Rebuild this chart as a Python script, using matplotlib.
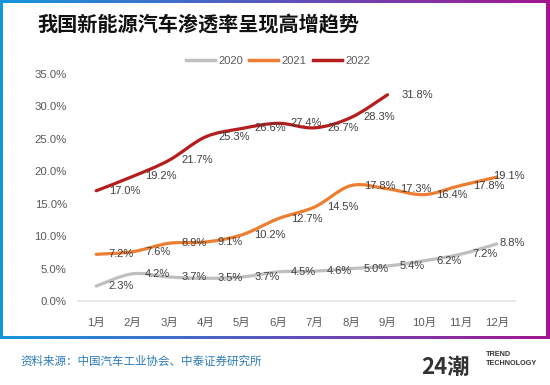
import numpy as np
import matplotlib
matplotlib.use('Agg')
import matplotlib.pyplot as plt
from matplotlib.path import Path
from matplotlib.patches import PathPatch, Rectangle
from matplotlib.lines import Line2D
from matplotlib.colors import LinearSegmentedColormap

plt.rcParams['font.family'] = ['Liberation Sans', 'Noto Sans CJK SC', 'DejaVu Sans']

months = ['1月', '2月', '3月', '4月', '5月', '6月', '7月', '8月', '9月', '10月', '11月', '12月']
v2020 = [2.3, 4.2, 3.7, 3.5, 3.7, 4.5, 4.6, 5.0, 5.4, 6.2, 7.2, 8.8]
v2021 = [7.2, 7.6, 8.9, 9.1, 10.2, 12.7, 14.5, 17.8, 17.3, 16.4, 17.8, 19.1]
v2022 = [17.0, 19.2, 21.7, 25.3, 26.6, 27.4, 26.7, 28.3, 31.8]
series = [('2020', v2020, '#BFBFBF'), ('2021', v2021, '#ED7D31'), ('2022', v2022, '#B71C1C')]
yticks = [0, 5, 10, 15, 20, 25, 30, 35]

# last data label of the full-year series is pulled in so it stays inside the frame
last_offset = {'2020': (2, 1), '2021': (-3, 1), '2022': (10, 0)}


def smooth_path(xs, ys):
    # Catmull-Rom style Bezier through the data points (like Excel's smoothed line)
    pts = np.column_stack([xs, ys]).astype(float)
    verts = [pts[0]]
    codes = [Path.MOVETO]
    n = len(pts)
    for i in range(n - 1):
        p0 = pts[max(i - 1, 0)]
        p1 = pts[i]
        p2 = pts[i + 1]
        p3 = pts[min(i + 2, n - 1)]
        c1 = p1 + (p2 - p0) / 6.0
        c2 = p2 - (p3 - p1) / 6.0
        verts += [c1, c2, p2]
        codes += [Path.CURVE4] * 3
    return Path(verts, codes)


W, H = 550, 385
fig = plt.figure(figsize=(W / 100, H / 100), dpi=100)

# gradient frame
frame_h = 339
bg = fig.add_axes([0, 1 - frame_h / H, 1, frame_h / H], zorder=0)
cmap = LinearSegmentedColormap.from_list('frame', ['#1597DB', '#5B55BE', '#A3168F'])
bg.imshow(np.linspace(0, 1, 256).reshape(1, -1), aspect='auto', cmap=cmap,
          extent=[0, W, 0, frame_h])
bg.add_patch(Rectangle((3, 3), W - 7, frame_h - 6, facecolor='white', edgecolor='none'))
bg.set_xlim(0, W)
bg.set_ylim(0, frame_h)
bg.axis('off')

ax = fig.add_axes([78 / W, 1 - 301 / H, (515 - 78) / W, (301 - 74) / H], zorder=2)
ax.set_facecolor('none')
x = np.arange(len(months))
for name, vals, col in series:
    xs = x[:len(vals)]
    ax.add_patch(PathPatch(smooth_path(xs, vals), facecolor='none', edgecolor=col,
                           lw=2.3, capstyle='round', zorder=3))
    for i, (xi, v) in enumerate(zip(xs, vals)):
        off = last_offset[name] if i == len(vals) - 1 else (9, 0)
        ax.annotate(f'{v:.1f}%', (xi, v), xytext=off, textcoords='offset points',
                    ha='left', va='center', fontsize=8, color='#404040', zorder=4)

ax.set_xlim(-0.5, len(months) - 0.5)
ax.set_ylim(0, 35)
ax.set_xticks(x)
ax.set_xticklabels(months)
ax.set_yticks(yticks)
ax.set_yticklabels([f'{t:.1f}%' for t in yticks])
ax.tick_params(length=0, labelsize=8.2, colors='#595959')
ax.tick_params(axis='x', pad=12)
ax.tick_params(axis='y', pad=8)
for s in ['top', 'right', 'left']:
    ax.spines[s].set_visible(False)
ax.spines['bottom'].set_color('#E3E3E3')
ax.spines['bottom'].set_linewidth(1.2)

handles = [Line2D([], [], color=c, lw=2.5) for _, _, c in series]
fig.legend(handles, [n for n, _, _ in series], loc='center', ncol=3,
           bbox_to_anchor=(278 / W, 1 - 61 / H), frameon=False, fontsize=8,
           handlelength=2.6, handletextpad=0.3, columnspacing=0.6,
           labelcolor='#595959')

fig.text(37 / W, 1 - 25 / H, '我国新能源汽车渗透率呈现高增趋势', fontsize=14.5,
         fontweight='bold', family=['Noto Sans CJK SC'], color='#111111',
         ha='left', va='center')

fig.text(20 / W, 1 - 361 / H, '资料来源：中国汽车工业协会、中泰证券研究所', fontsize=8.3,
         family=['Noto Sans CJK SC'], color='#2C7BB6', ha='left', va='center')

fig.text(421 / W, 1 - 367 / H, '24潮', fontsize=16, fontweight='bold',
         family=['Noto Sans CJK SC'], color='#333333', ha='left', va='center')
fig.text(486 / W, 1 - 359 / H, 'TREND\nTECHNOLOGY', fontsize=5.2, fontweight='bold',
         color='#333333', ha='left', va='center', linespacing=1.3)

fig.savefig('out.png', dpi=100)
